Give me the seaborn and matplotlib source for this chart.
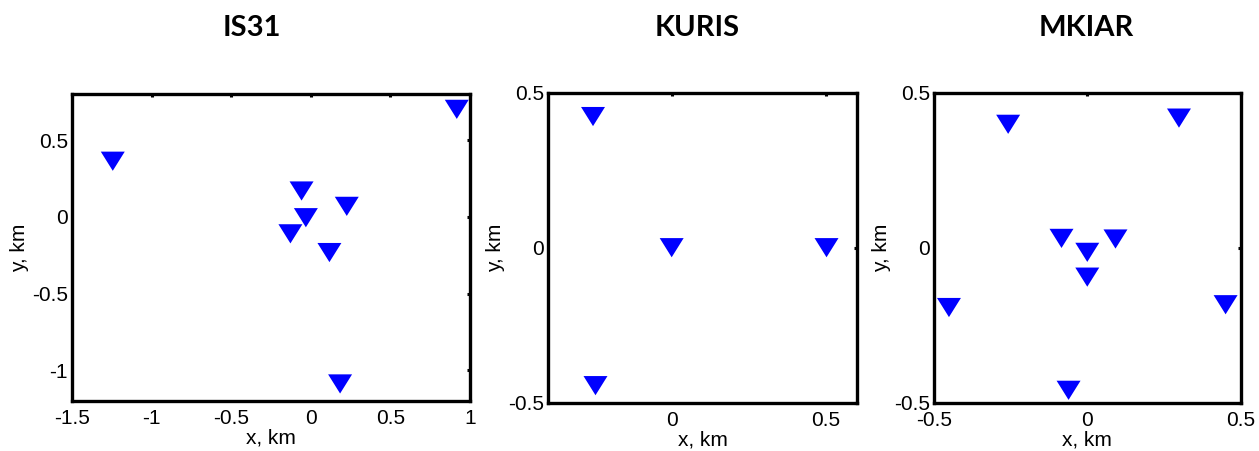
import numpy as np
import pandas as pd
import matplotlib
matplotlib.use("Agg")
import matplotlib.pyplot as plt
from matplotlib.path import Path
from matplotlib.markers import MarkerStyle
from matplotlib.ticker import FuncFormatter
import seaborn as sns

# Station coordinates (km) for each array
arrays = ["IS31", "KURIS", "MKIAR"]

is31_x = [0.917, -1.244, -0.058, 0.226, -0.031, -0.128, 0.117, 0.184]
is31_y = [0.700, 0.362, 0.168, 0.068, -0.006, -0.111, -0.233, -1.089]

kuris_x = [-0.255, 0.0, 0.502, -0.247]
kuris_y = [0.423, 0.0, 0.0, -0.445]

mkiar_x = [-0.258, 0.299, -0.084, 0.092, 0.0, 0.0, -0.451, 0.451, -0.061]
mkiar_y = [0.398, 0.418, 0.030, 0.028, -0.015, -0.095, -0.193, -0.184, -0.460]

# Axis limits and ticks
xlims = [(-1.5, 1.0), (-0.4, 0.6), (-0.5, 0.5)]
ylims = [(-1.2, 0.8), (-0.5, 0.5), (-0.5, 0.5)]
xticks = [[-1.5, -1, -0.5, 0, 0.5, 1], [0, 0.5], [-0.5, 0, 0.5]]
yticks = [[-1, -0.5, 0, 0.5], [-0.5, 0, 0.5], [-0.5, 0, 0.5]]

sns.set_theme(style="white")
plt.rcParams["font.family"] = ["Liberation Sans", "DejaVu Sans"]
plt.rcParams["axes.unicode_minus"] = False
plt.rcParams["text.color"] = "black"

fig = plt.figure(figsize=(12.59, 4.51), dpi=100)

positions = [
    [0.0572, 0.1109, 0.3161, 0.6807],
    [0.4355, 0.1071, 0.2450, 0.6874],
    [0.7418, 0.1071, 0.2436, 0.6874],
]
title_x = [0.200, 0.554, 0.863]

# downward triangle, slightly flatter than equilateral
tri = MarkerStyle(Path([(-1, 0.8), (1, 0.8), (0, -0.8), (-1, 0.8)],
                       [Path.MOVETO, Path.LINETO, Path.LINETO, Path.CLOSEPOLY]))

datasets = [(is31_x, is31_y), (kuris_x, kuris_y), (mkiar_x, mkiar_y)]
fmt = FuncFormatter(lambda v, p: f"{v:g}")

for i, (name, (xs, ys)) in enumerate(zip(arrays, datasets)):
    ax = fig.add_axes(positions[i])
    df = pd.DataFrame({"x": xs, "y": ys})
    sns.scatterplot(data=df, x="x", y="y", ax=ax, marker=tri, s=298,
                    color="#0000ff", edgecolor="none", linewidth=0,
                    clip_on=False, zorder=3)
    ax.set_xlim(*xlims[i])
    ax.set_ylim(*ylims[i])
    ax.set_xticks(xticks[i])
    ax.set_yticks(yticks[i])
    ax.xaxis.set_major_formatter(fmt)
    ax.yaxis.set_major_formatter(fmt)
    ax.tick_params(direction="in", length=2.5, width=2.2, color="black",
                   top=True, right=True, labelsize=15, pad=3,
                   labelcolor="black")
    ax.tick_params(axis="x", pad=6)
    for sp in ax.spines.values():
        sp.set_visible(True)
        sp.set_color("black")
        sp.set_linewidth(2.4)
    ax.set_xlabel("x, km", fontsize=15, labelpad=0, color="black")
    ax.set_ylabel("y, km", fontsize=15, labelpad=2, color="black")
    fig.text(title_x[i], 0.938, name, ha="center", va="center", color="black",
             fontsize=21, fontweight="bold", family=["Lato", "DejaVu Sans"])

fig.savefig("out.png", dpi=100, facecolor="white")
